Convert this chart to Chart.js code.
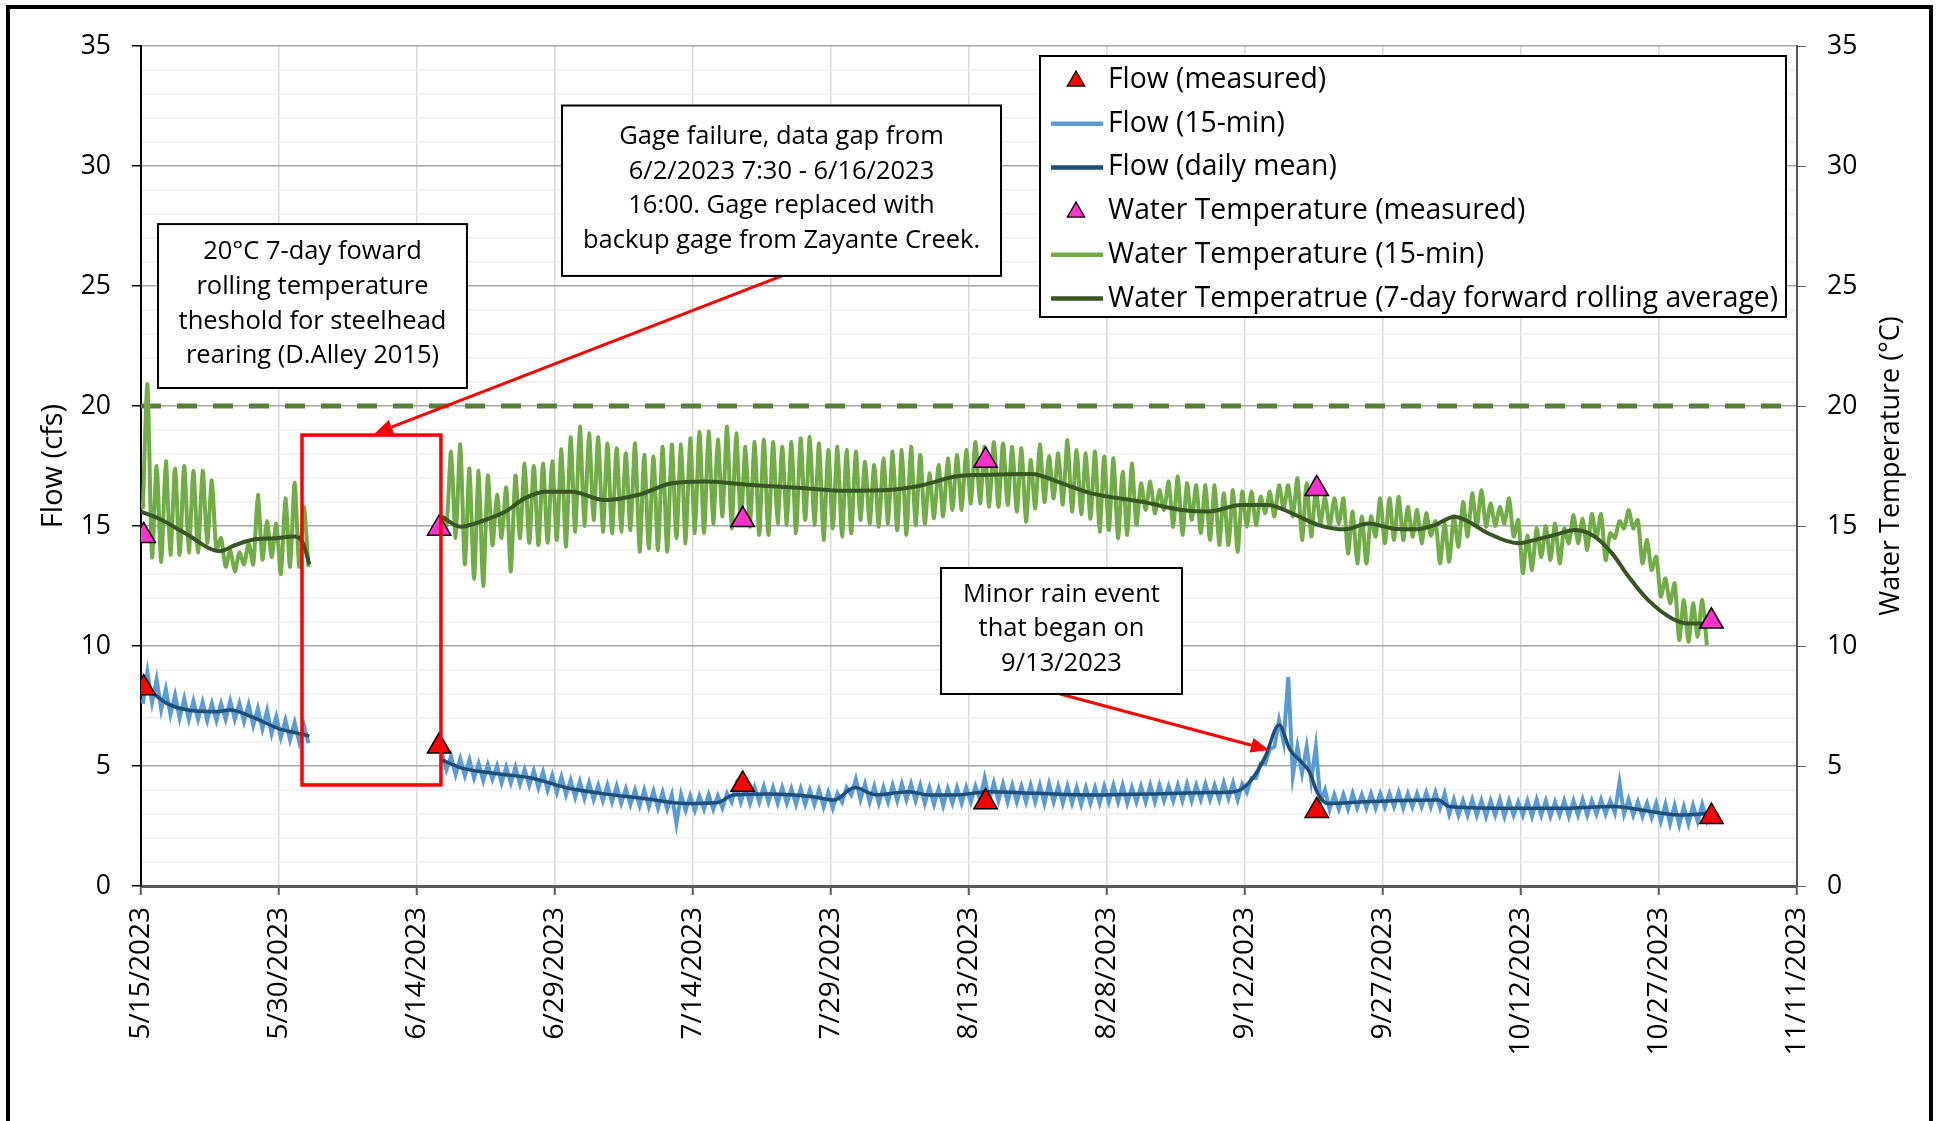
<!DOCTYPE html>
<html>
<head>
<meta charset="utf-8">
<script src="https://cdn.jsdelivr.net/npm/chart.js@4.4.1/dist/chart.umd.min.js"></script>
<style>
    html, body { margin: 0; padding: 0; background: #fff; overflow: hidden; }
    #chart { position: absolute; left: 0; top: 0; }
    #frame {
        position: absolute; left: 6px; top: 5px; width: 1927px; height: 1140px;
        border: 4px solid #000; border-bottom: none; box-sizing: border-box;
    }
</style>
</head>
<body>
<canvas id="chart" width="1937" height="1121"></canvas>
<div id="frame"></div>
<script>
// x values are days after 5/15/2023
const xTickLabels = ['5/15/2023', '5/30/2023', '6/14/2023', '6/29/2023', '7/14/2023', '7/29/2023',
    '8/13/2023', '8/28/2023', '9/12/2023', '9/27/2023', '10/12/2023', '10/27/2023', '11/11/2023'];

// field visits
const measuredDays = [0.3, 32.4, 65.4, 91.8, 127.8, 170.7];
const flowMeasured = [8.25, 5.82, 4.23, 3.5, 3.14, 2.89];
const tempMeasured = [14.59, 14.9, 15.26, 17.73, 16.55, 11.03];

const tempThreshold = 20;

// 15-min water temperature, daily low (early morning) and daily high (afternoon), day 0..170
const tempLow = [
    15.7, 13.7, 13.5, 13.8, 13.8, 13.9, 13.9, 14.3, 14.0, 13.3,
    13.1, 13.4, 13.4, 13.6, 13.7, 13.0, 13.3, 13.3, 13.3, null,
    null, null, null, null, null, null, null, null, null, null,
    null, null, null, 15.0, 14.5, 13.4, 12.8, 12.5, 14.2, 14.5,
    13.1, 14.5, 14.3, 14.2, 14.3, 14.42, 14.14, 14.76, 15.0, 15.25,
    14.76, 14.7, 14.76, 14.83, 13.93, 14.07, 14.0, 13.93, 14.49, 14.28,
    14.7, 14.7, 15.1, 15.4, 14.9, 15.18, 14.97, 14.63, 14.63, 15.1,
    15.04, 14.7, 15.25, 15.04, 14.42, 14.9, 14.56, 14.7, 15.25, 15.1,
    14.97, 15.1, 14.83, 14.63, 15.04, 15.1, 15.32, 15.4, 15.67, 15.67,
    15.94, 15.94, 15.8, 15.8, 15.88, 15.6, 15.18, 15.74, 16.0, 16.15,
    15.9, 15.6, 15.5, 15.3, 14.76, 14.83, 14.49, 14.63, 15.04, 15.67,
    15.53, 15.67, 14.97, 14.63, 15.25, 14.7, 14.42, 14.21, 14.21, 13.93,
    14.97, 15.04, 15.53, 15.4, 15.74, 15.4, 14.42, 14.56, 15.1, 14.97,
    15.1, 13.86, 13.44, 13.44, 14.56, 14.28, 14.42, 14.42, 14.55, 14.28,
    14.6, 13.44, 13.51, 14.14, 14.56, 14.97, 14.97, 15.0, 15.1, 14.56,
    13.03, 13.17, 13.7, 13.58, 13.44, 14.28, 14.28, 14.0, 14.5, 13.58,
    14.5, 14.9, 14.9, 13.44, 13.17, 12.06, 11.78, 10.25, 10.18, 10.39,
    10.04
];
const tempHigh = [
    20.9, 17.5, 17.7, 17.4, 17.5, 17.3, 17.3, 16.9, 14.5, 14.0,
    13.9, 14.3, 16.3, 15.2, 15.1, 16.15, 16.8, 15.8, null, null,
    null, null, null, null, null, null, null, null, null, null,
    null, null, 15.3, 18.1, 18.4, 17.4, 17.3, 17.1, 16.3, 16.6,
    17.1, 17.6, 17.5, 17.6, 17.7, 18.2, 18.7, 19.14, 18.86, 18.7,
    18.44, 18.24, 18.03, 18.44, 17.96, 17.9, 18.3, 18.4, 18.4, 18.65,
    18.93, 18.93, 18.6, 19.14, 18.86, 18.3, 18.5, 18.6, 18.5, 18.3,
    18.5, 18.65, 18.72, 18.44, 18.17, 18.3, 18.17, 18.1, 17.68, 17.54,
    17.82, 18.1, 18.17, 18.3, 17.96, 17.2, 17.54, 17.82, 17.96, 18.17,
    18.5, 18.3, 18.5, 18.44, 18.3, 18.24, 17.75, 18.4, 17.9, 18.03,
    18.58, 18.17, 18.03, 18.1, 17.9, 17.82, 17.26, 17.6, 16.78, 16.85,
    16.5, 16.85, 17.06, 16.78, 16.7, 16.7, 16.7, 16.36, 16.5, 16.43,
    16.43, 16.22, 16.43, 16.7, 16.7, 16.99, 16.78, 16.5, 16.22, 16.15,
    16.15, 15.6, 15.4, 15.4, 16.15, 16.15, 16.22, 15.8, 15.67, 15.53,
    15.2, 15.1, 15.4, 16.0, 16.36, 16.5, 15.94, 15.8, 16.15, 15.25,
    14.6, 14.9, 15.0, 15.1, 14.9, 15.46, 15.3, 15.5, 15.5, 14.7,
    15.2, 15.67, 15.25, 14.42, 13.72, 12.82, 12.61, 11.92, 11.78, 11.92,
    null
];

// 7-day forward rolling average of water temperature
const tempAvgDays = [0, 2, 4.8, 8.6, 10.2, 12, 14.6, 16.7, 17.6, 18.3, 25,
    32.7, 34.7, 37.4, 39.6, 41.7, 43.9, 46.8, 50.4, 54.1, 57.7,
    61.3, 66.7, 72.2, 75.8, 81.2, 84.9, 88.5, 91.7, 96.8, 100.1,
    103.3, 108.8, 113.1, 116, 119.6, 122.5, 125.1, 128, 130.9, 133.4,
    136, 138.5, 140.6, 142.8, 144.3, 146.4, 149.7, 151.5, 153.7, 155.9,
    158, 159.9, 161.7, 163.8, 166.4, 168.2, 170.3];
const tempAvg = [15.6, 15.3, 14.7, 13.95, 14.2, 14.42, 14.49, 14.56, 14.3, 13.4, null,
    15.4, 14.97, 15.25, 15.6, 16.15, 16.43, 16.43, 16.08, 16.3, 16.78,
    16.85, 16.7, 16.57, 16.47, 16.5, 16.7, 17.06, 17.13, 17.17, 16.78,
    16.36, 16.01, 15.67, 15.6, 15.88, 15.88, 15.53, 15.04, 14.86, 15.1,
    14.9, 14.86, 15.04, 15.39, 15.18, 14.7, 14.28, 14.42, 14.63, 14.83,
    14.56, 13.86, 12.89, 11.92, 11.15, 10.94, 10.94];

// 15-min flow, daily low and daily high, day 0..170
const flowLow = [
    7.6, 7.65, 7.35, 7.15, 7.0, 6.95, 6.95, 6.9, 6.9, 6.95,
    6.95, 6.85, 6.7, 6.55, 6.35, 6.2, 6.1, 6.0, 5.95, null,
    null, null, null, null, null, null, null, null, null, null,
    null, null, null, 4.85, 4.65, 4.6, 4.5, 4.4, 4.45, 4.3,
    4.3, 4.25, 4.2, 4.1, 4.0, 3.9, 3.8, 3.7, 3.65, 3.6,
    3.55, 3.5, 3.45, 3.4, 3.35, 3.3, 3.25, 3.2, 2.6, 3.15,
    3.15, 3.2, 3.2, 3.25, 3.5, 3.5, 3.45, 3.5, 3.5, 3.45,
    3.45, 3.4, 3.4, 3.4, 3.3, 3.25, 3.5, 3.8, 3.6, 3.5,
    3.45, 3.5, 3.55, 3.6, 3.55, 3.45, 3.4, 3.35, 3.45, 3.45,
    3.5, 3.6, 3.6, 3.55, 3.5, 3.5, 3.5, 3.5, 3.45, 3.5,
    3.45, 3.45, 3.4, 3.45, 3.45, 3.5, 3.5, 3.45, 3.5, 3.5,
    3.5, 3.55, 3.55, 3.55, 3.55, 3.6, 3.6, 3.6, 3.65, 3.6,
    3.9, 4.5, 5.1, 5.8, 6.0, 4.6, 4.7, 4.4, 3.5, 3.2,
    3.2, 3.2, 3.25, 3.25, 3.25, 3.3, 3.3, 3.25, 3.3, 3.3,
    3.3, 3.25, 3.0, 2.95, 2.95, 2.95, 2.9, 2.95, 2.9, 2.95,
    2.95, 2.9, 2.95, 2.9, 2.95, 2.9, 2.95, 2.95, 3.0, 3.0,
    3.05, 3.0, 2.95, 2.9, 2.85, 2.7, 2.6, 2.55, 2.6, 2.7,
    2.75
];
const flowHigh = [
    8.9, 8.6, 8.2, 7.95, 7.8, 7.7, 7.65, 7.6, 7.6, 7.7,
    7.6, 7.55, 7.4, 7.3, 7.05, 6.9, 6.8, 6.7, null, null,
    null, null, null, null, null, null, null, null, null, null,
    null, null, 5.55, 5.4, 5.3, 5.25, 5.1, 5.05, 5.0, 4.95,
    4.95, 4.85, 4.8, 4.75, 4.6, 4.55, 4.4, 4.35, 4.3, 4.2,
    4.2, 4.15, 4.05, 4.0, 4.0, 3.95, 3.9, 3.8, 3.8, 3.75,
    3.75, 3.8, 3.75, 3.85, 4.2, 4.1, 4.1, 4.15, 4.1, 4.1,
    4.05, 4.05, 4.0, 4.0, 3.9, 3.85, 4.1, 4.45, 4.25, 4.15,
    4.1, 4.2, 4.25, 4.25, 4.2, 4.1, 4.05, 4.05, 4.1, 4.1,
    4.15, 4.5, 4.3, 4.25, 4.2, 4.15, 4.2, 4.2, 4.25, 4.15,
    4.15, 4.1, 4.1, 4.1, 4.15, 4.2, 4.2, 4.1, 4.15, 4.2,
    4.2, 4.15, 4.2, 4.25, 4.2, 4.25, 4.2, 4.3, 4.3, 4.25,
    4.5, 5.1, 5.7, 6.9, 8.7, 5.8, 5.8, 5.8, 4.0, 3.8,
    3.8, 3.85, 3.8, 3.85, 3.85, 3.85, 3.9, 3.85, 3.85, 3.9,
    3.9, 3.85, 3.6, 3.55, 3.6, 3.55, 3.55, 3.6, 3.55, 3.5,
    3.55, 3.6, 3.55, 3.5, 3.55, 3.55, 3.6, 3.55, 3.6, 3.55,
    4.3, 3.6, 3.5, 3.45, 3.45, 3.4, 3.35, 3.3, 3.35, 3.4,
    3.3
];

// daily mean flow
const flowMeanDays = [0, 0.8, 2.8, 5.1, 8, 9.7, 12, 14.9, 16.6, 18.3, 25,
    32.7, 35, 38.5, 42.5, 46.5, 50, 54.6, 59.2, 62.6, 64.4,
    68.4, 73, 75.3, 77.6, 79.9, 83.4, 85.7, 88.5, 92.1, 97.4,
    103.4, 109.4, 115.3, 118.9, 120.7, 122.2, 123.7, 124.9, 126.1, 127,
    127.9, 129, 133.2, 141, 142.2, 148.1, 154.1, 160.1, 163, 167.2,
    170.8];
const flowMean = [8.3, 8.17, 7.61, 7.33, 7.26, 7.33, 7.06, 6.57, 6.4, 6.25, null,
    5.25, 4.9, 4.69, 4.49, 4.07, 3.86, 3.65, 3.44, 3.47, 3.79,
    3.83, 3.72, 3.58, 4.1, 3.8, 3.93, 3.79, 3.79, 3.93, 3.86,
    3.79, 3.83, 3.89, 3.93, 4.42, 5.39, 6.71, 5.67, 5.18, 4.76,
    3.86, 3.44, 3.51, 3.58, 3.31, 3.24, 3.24, 3.31, 3.17, 2.96,
    3.03];

const FONT = "'Open Sans', sans-serif";

function zip(xs, ys) {
    return xs.map((x, i) => ({ x: x, y: ys[i] }));
}

// daily low sits in the morning, daily high in the afternoon
function dailyPairs(lows, highs) {
    const pts = [];
    for (let d = 0; d < lows.length; d++) {
        pts.push({ x: d + 0.2, y: lows[d] });
        pts.push({ x: d + 0.7, y: highs[d] });
    }
    return pts;
}

const isMajor = v => Math.abs(v % 5) < 1e-6;

/**
 * Callout boxes, red gap box and arrows, placed in axis units
 */
const notes = [
    { x1: 1.85, x2: 35.43, y1: 27.58, y2: 20.75,
      lines: ['20°C 7-day foward', 'rolling temperature', 'theshold for steelhead', 'rearing (D.Alley 2015)'] },
    { x1: 45.76, x2: 93.48, y1: 32.52, y2: 25.42,
      lines: ['Gage failure, data gap from', '6/2/2023 7:30 - 6/16/2023', '16:00. Gage replaced with', 'backup gage from Zayante Creek.'] },
    { x1: 86.96, x2: 113.15, y1: 13.25, y2: 8.0,
      lines: ['Minor rain event', 'that began on', '9/13/2023'] }
];
const gapBox = { x1: 17.5, x2: 32.6, y1: 18.79, y2: 4.21 };
const arrows = [
    { x1: 69.67, y1: 25.42, x2: 25.4, y2: 18.85 },
    { x1: 99.9, y1: 8.0, x2: 122.6, y2: 5.67 }
];

function drawArrow(ctx, x1, y1, x2, y2) {
    const ang = Math.atan2(y2 - y1, x2 - x1);
    const headLen = 18, headWid = 15;
    const bx = x2 - headLen * Math.cos(ang);
    const by = y2 - headLen * Math.sin(ang);
    ctx.strokeStyle = '#FF0000';
    ctx.fillStyle = '#FF0000';
    ctx.lineWidth = 3;
    ctx.beginPath();
    ctx.moveTo(x1, y1);
    ctx.lineTo(bx, by);
    ctx.stroke();
    ctx.beginPath();
    ctx.moveTo(x2, y2);
    ctx.lineTo(bx + headWid / 2 * Math.sin(ang), by - headWid / 2 * Math.cos(ang));
    ctx.lineTo(bx - headWid / 2 * Math.sin(ang), by + headWid / 2 * Math.cos(ang));
    ctx.closePath();
    ctx.fill();
}

const overlayPlugin = {
    id: 'overlay',
    afterDatasetsDraw(chart) {
        const ctx = chart.ctx;
        const xs = chart.scales.x, ys = chart.scales.y;
        const area = chart.chartArea;
        ctx.save();

        // red box over the data gap
        ctx.strokeStyle = '#FF0000';
        ctx.lineWidth = 3.5;
        const gx1 = xs.getPixelForValue(gapBox.x1), gx2 = xs.getPixelForValue(gapBox.x2);
        const gy1 = ys.getPixelForValue(gapBox.y1), gy2 = ys.getPixelForValue(gapBox.y2);
        ctx.strokeRect(gx1, gy1, gx2 - gx1, gy2 - gy1);

        arrows.forEach(a => drawArrow(ctx,
            xs.getPixelForValue(a.x1), ys.getPixelForValue(a.y1),
            xs.getPixelForValue(a.x2), ys.getPixelForValue(a.y2)));

        // callout boxes
        ctx.font = '25.5px ' + FONT;
        ctx.textAlign = 'center';
        ctx.textBaseline = 'middle';
        notes.forEach(n => {
            const l = xs.getPixelForValue(n.x1), r = xs.getPixelForValue(n.x2);
            const t = ys.getPixelForValue(n.y1), b = ys.getPixelForValue(n.y2);
            ctx.fillStyle = '#fff';
            ctx.fillRect(l, t, r - l, b - t);
            ctx.strokeStyle = '#000';
            ctx.lineWidth = 2;
            ctx.strokeRect(l, t, r - l, b - t);
            ctx.fillStyle = '#000';
            const lh = 34.6;
            const cy = (t + b) / 2 - (n.lines.length - 1) * lh / 2 - 2;
            n.lines.forEach((s, i) => ctx.fillText(s, (l + r) / 2, cy + i * lh));
        });

        // legend box
        const lg = { left: area.right - 757, top: area.top + 10, width: 746, height: 261 };
        ctx.fillStyle = '#fff';
        ctx.fillRect(lg.left, lg.top, lg.width, lg.height);
        ctx.strokeStyle = '#000';
        ctx.lineWidth = 2;
        ctx.strokeRect(lg.left, lg.top, lg.width, lg.height);
        ctx.font = '28.3px ' + FONT;
        ctx.textAlign = 'left';
        const legendOrder = [0, 1, 2, 3, 4, 5];
        legendOrder.forEach((di, row) => {
            const ds = chart.data.datasets[di];
            const cy = lg.top + 24 + row * 43.7;
            if (ds.showLine === false) {
                ctx.fillStyle = ds.pointBackgroundColor;
                ctx.strokeStyle = '#000';
                ctx.lineWidth = 1.3;
                Chart.helpers.drawPoint(ctx, { pointStyle: 'triangle', radius: 10, borderWidth: 1.3, rotation: 0 },
                    lg.left + 36, cy + 1);
            } else {
                ctx.strokeStyle = ds.borderColor;
                ctx.lineWidth = 4.5;
                ctx.beginPath();
                ctx.moveTo(lg.left + 11, cy);
                ctx.lineTo(lg.left + 63, cy);
                ctx.stroke();
            }
            ctx.fillStyle = '#000';
            ctx.fillText(ds.label, lg.left + 68, cy);
        });

        // right axis title reads bottom to top
        ctx.font = '27px ' + FONT;
        ctx.textAlign = 'center';
        ctx.translate(1891, (area.top + area.bottom) / 2);
        ctx.rotate(-Math.PI / 2);
        ctx.fillText('Water Temperature (°C)', 0, 0);
        ctx.restore();
    }
};

const yTickCb = v => (isMajor(v) ? v : '');

const ctx = document.getElementById('chart').getContext('2d');
new Chart(ctx, {
    type: 'line',
    data: {
        datasets: [
            {
                label: 'Flow (measured)',
                data: zip(measuredDays, flowMeasured),
                yAxisID: 'y',
                showLine: false,
                pointStyle: 'triangle',
                pointRadius: 13.5,
                pointBackgroundColor: '#FF0000',
                pointBorderColor: '#000',
                pointBorderWidth: 1.5,
                order: 1
            },
            {
                label: 'Flow (15-min)',
                data: dailyPairs(flowLow, flowHigh),
                yAxisID: 'y',
                borderColor: '#5B9BD5',
                borderWidth: 4,
                pointRadius: 0,
                tension: 0,
                order: 5
            },
            {
                label: 'Flow (daily mean)',
                data: zip(flowMeanDays, flowMean),
                yAxisID: 'y',
                borderColor: '#1F4E79',
                borderWidth: 3.5,
                pointRadius: 0,
                cubicInterpolationMode: 'monotone',
                order: 4
            },
            {
                label: 'Water Temperature (measured)',
                data: zip(measuredDays, tempMeasured),
                yAxisID: 'y2',
                showLine: false,
                pointStyle: 'triangle',
                pointRadius: 13.5,
                pointBackgroundColor: '#FF33CC',
                pointBorderColor: '#000',
                pointBorderWidth: 1.5,
                order: 0
            },
            {
                label: 'Water Temperature (15-min)',
                data: dailyPairs(tempLow, tempHigh),
                yAxisID: 'y2',
                borderColor: '#70AD47',
                borderWidth: 4,
                pointRadius: 0,
                tension: 0.25,
                order: 7
            },
            {
                label: 'Water Temperatrue (7-day forward rolling average)',
                data: zip(tempAvgDays, tempAvg),
                yAxisID: 'y2',
                borderColor: '#375623',
                borderWidth: 4,
                pointRadius: 0,
                cubicInterpolationMode: 'monotone',
                order: 6
            },
            {
                label: 'threshold',
                data: [{ x: 0, y: tempThreshold }, { x: 180, y: tempThreshold }],
                yAxisID: 'y2',
                borderColor: '#548235',
                borderWidth: 5,
                borderDash: [20, 16],
                pointRadius: 0,
                order: 8
            }
        ]
    },
    options: {
        responsive: false,
        animation: false,
        events: [],
        spanGaps: false,
        layout: { padding: { top: 46, left: 0, right: 0, bottom: 0 } },
        font: { family: FONT },
        plugins: {
            legend: { display: false },
            tooltip: { enabled: false }
        },
        scales: {
            x: {
                type: 'linear',
                min: 0,
                max: 180,
                afterFit(scale) { scale.height = 235; },
                ticks: {
                    stepSize: 15,
                    autoSkip: false,
                    minRotation: 90,
                    maxRotation: 90,
                    padding: 12,
                    color: '#000',
                    font: { family: FONT, size: 28 },
                    callback: (v, i) => xTickLabels[i]
                },
                grid: { color: '#D9D9D9', lineWidth: 1.5, tickLength: 9, tickColor: '#595959', tickWidth: 2 },
                border: { color: '#595959', width: 3 }
            },
            y: {
                position: 'left',
                min: 0,
                max: 35,
                afterFit(scale) { scale.width = 141; },
                ticks: {
                    stepSize: 1,
                    autoSkip: false,
                    padding: 21,
                    color: '#000',
                    font: { family: FONT, size: 26.5 },
                    callback: yTickCb
                },
                grid: {
                    color: c => (isMajor(c.tick.value) ? '#A6A6A6' : '#EFEFEF'),
                    lineWidth: 1.5,
                    tickLength: 9,
                    tickColor: c => (isMajor(c.tick.value) ? '#000' : 'rgba(0,0,0,0)')
                },
                border: { color: '#000', width: 2 },
                title: {
                    display: true,
                    text: 'Flow (cfs)',
                    color: '#000',
                    font: { family: FONT, size: 29 },
                    padding: { top: 36, bottom: 0 }
                }
            },
            y2: {
                position: 'right',
                min: 0,
                max: 35,
                afterFit(scale) { scale.width = 140; },
                ticks: {
                    stepSize: 1,
                    autoSkip: false,
                    padding: 21,
                    color: '#000',
                    font: { family: FONT, size: 26.5 },
                    callback: yTickCb
                },
                grid: {
                    drawOnChartArea: false,
                    tickLength: 9,
                    tickColor: c => (isMajor(c.tick.value) ? '#595959' : 'rgba(0,0,0,0)')
                },
                border: { color: '#595959', width: 2 }
            }
        }
    },
    plugins: [overlayPlugin]
});
</script>
</body>
</html>
